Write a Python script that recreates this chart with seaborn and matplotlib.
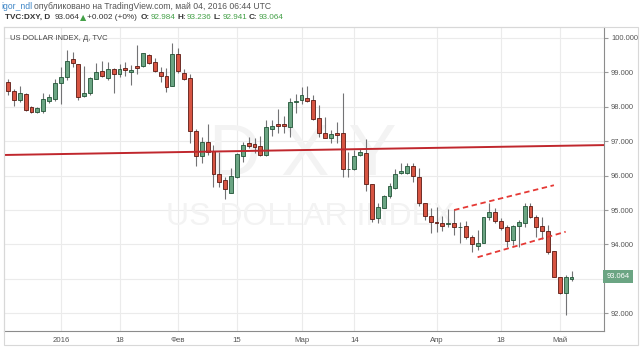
import matplotlib
matplotlib.use('Agg')
import matplotlib.pyplot as plt
import matplotlib.transforms as mtransforms
from matplotlib.patches import Rectangle
import seaborn as sns
import numpy as np
import pandas as pd

# ---------------- data ----------------
dates = [d for d in pd.bdate_range('2015-12-21', '2016-05-04') if d != pd.Timestamp('2016-01-01')]

open_ = [98.73, 98.46, 98.19, 98.36, 97.98, 97.85, 97.88, 98.17, 98.21, 98.70,
         98.87, 99.38, 99.23, 98.31, 98.39, 98.80, 99.04, 98.82, 99.09, 98.94,
         99.13, 99.02, 99.18, 99.19, 99.50, 99.29, 99.02, 98.89, 98.61, 99.53,
         98.99, 98.82, 97.30, 96.57, 96.97, 96.71, 96.05, 95.87, 95.49, 95.95,
         96.57, 96.95, 96.91, 96.87, 96.60, 97.34, 97.50, 97.49, 97.40, 98.13,
         98.19, 98.26, 98.19, 97.68, 97.23, 97.08, 97.25, 97.23, 96.18, 96.19,
         96.61, 96.65, 95.76, 94.76, 95.05, 95.41, 95.63, 96.07, 96.07, 96.29,
         95.95, 95.20, 94.84, 94.64, 94.62, 94.59, 94.62, 94.50, 94.55, 94.21,
         93.97, 94.05, 94.81, 94.93, 94.69, 94.50, 94.13, 94.54, 94.62, 95.12,
         94.79, 94.54, 94.39, 93.82, 93.05, 92.60, 92.984]
high = [98.80, 98.51, 98.60, 98.39, 98.02, 98.00, 98.41, 98.37, 98.80, 99.16,
        99.65, 99.60, 99.24, 99.18, 98.85, 99.28, 99.34, 99.31, 99.12, 99.24,
        99.31, 99.21, 99.79, 99.57, 99.53, 99.40, 99.16, 99.11, 99.84, 99.70,
        99.09, 98.94, 97.34, 97.13, 97.49, 96.89, 96.69, 95.97, 96.21, 96.65,
        96.98, 97.11, 97.08, 97.15, 97.61, 97.61, 97.92, 97.73, 98.24, 98.37,
        98.58, 98.60, 98.34, 98.05, 97.71, 97.32, 97.56, 98.39, 96.69, 96.74,
        96.76, 97.05, 95.76, 95.20, 95.44, 95.78, 96.18, 96.36, 96.37, 96.36,
        96.21, 95.20, 95.05, 95.08, 94.83, 95.02, 95.02, 94.66, 94.69, 94.28,
        94.42, 94.81, 95.21, 95.05, 94.76, 94.57, 94.57, 94.71, 95.21, 95.20,
        94.86, 94.81, 94.57, 93.82, 93.05, 93.11, 93.236]
low = [98.34, 98.02, 98.15, 97.88, 97.83, 97.81, 97.81, 98.12, 98.17, 98.08,
       98.78, 99.16, 98.19, 98.29, 98.34, 98.80, 98.87, 98.78, 98.39, 98.87,
       98.89, 98.63, 98.95, 99.16, 99.24, 99.02, 98.73, 98.44, 98.61, 98.97,
       98.78, 96.94, 96.28, 96.36, 96.60, 95.68, 95.68, 95.31, 95.49, 95.93,
       96.40, 96.79, 96.67, 96.58, 96.58, 97.15, 97.23, 97.23, 97.13, 97.83,
       98.08, 98.14, 97.61, 97.13, 97.10, 96.94, 96.94, 95.97, 95.97, 96.16,
       96.57, 95.56, 94.66, 94.62, 95.05, 95.34, 95.60, 96.05, 96.05, 95.82,
       95.12, 94.70, 94.33, 94.37, 94.39, 94.50, 94.28, 94.03, 94.15, 93.79,
       93.84, 94.05, 94.71, 94.62, 94.42, 93.94, 93.99, 93.94, 94.50, 94.76,
       94.23, 94.15, 93.72, 93.05, 92.56, 91.95, 92.941]
close = [98.46, 98.19, 98.41, 97.90, 97.85, 97.95, 98.22, 98.27, 98.70, 98.85,
         99.34, 99.26, 98.29, 98.39, 98.82, 99.02, 98.89, 99.09, 98.95, 99.09,
         99.07, 99.07, 99.11, 99.55, 99.28, 99.04, 98.90, 98.58, 99.53, 99.04,
         98.80, 97.30, 96.57, 96.97, 96.69, 96.05, 95.82, 95.60, 95.99, 96.63,
         96.89, 96.86, 96.82, 96.60, 97.40, 97.44, 97.45, 97.45, 98.15, 98.17,
         98.34, 98.17, 97.63, 97.23, 97.10, 97.21, 97.18, 96.18, 96.20, 96.58,
         96.68, 95.76, 94.73, 95.10, 95.41, 95.70, 96.05, 96.13, 96.28, 95.99,
         95.20, 94.84, 94.64, 94.62, 94.55, 94.63, 94.50, 94.51, 94.21, 94.01,
         94.05, 94.79, 94.95, 94.69, 94.47, 94.11, 94.55, 94.66, 95.12, 94.81,
         94.50, 94.40, 93.79, 93.07, 92.58, 93.07, 93.064]

tick_dates = ['2016-01-04', '2016-01-18', '2016-02-01', '2016-02-15', '2016-03-01',
              '2016-03-14', '2016-04-01', '2016-04-18', '2016-05-02']
tick_labels = ['2016', '18', 'Фев', '15', 'Мар', '14', 'Апр', '18', 'Май']
price_ticks = [92, 93, 94, 95, 96, 97, 98, 99, 100]

# drawn lines: (start date, start price, end date, end price)
trend_main = ('2015-12-21', 96.60, '2016-05-04', 96.87)
channel_upper = ('2016-04-06', 95.00, '2016-04-29', 95.72)
channel_lower = ('2016-04-12', 93.63, '2016-05-03', 94.37)

last_price = 93.064
header_user = 'igor_ndl'
header_rest = 'опубликовано на TradingView.com, май 04, 2016 06:44 UTC'
symbol = 'TVC:DXY, D'
change = '+0.002 (+0%)'
ohlc_labels = ['O:', 'H:', 'L:', 'C:']
ohlc_values = ['92.984', '93.236', '92.941', '93.064']

# ---------------- style ----------------
sns.set_theme(style='white')
plt.rcParams['font.family'] = ['Liberation Sans', 'DejaVu Sans']

UP, DOWN = '#6ba583', '#d75442'
UP_EDGE, DOWN_EDGE = '#225437', '#5b1a13'
WICK = '#737375'
GREEN = '#43a047'

W, H = 640, 348
fig = plt.figure(figsize=(W / 100, H / 100), dpi=100)
fig.patch.set_facecolor('white')
L, R, T, B = 4, 604, 27, 331
ax = fig.add_axes([L / W, 1 - B / H, (R - L) / W, (B - T) / H])
ax.set_facecolor('white')

df = pd.DataFrame({'date': pd.to_datetime(dates), 'open': open_, 'high': high,
                   'low': low, 'close': close})
df['idx'] = np.arange(len(df))
df['up'] = df['close'] >= df['open']
pos = {d: i for i, d in zip(df['idx'], df['date'])}

def di(s):
    return pos[pd.Timestamp(s)]

# wicks
ax.vlines(df['idx'], df['low'], df['high'], color=WICK, lw=0.8, zorder=2)
# bodies
bottoms = np.minimum(df['open'], df['close'])
heights = np.abs(df['close'] - df['open'])
ax.bar(df['idx'], heights, bottom=bottoms, width=0.66,
       color=np.where(df['up'], UP, DOWN),
       edgecolor=np.where(df['up'], UP_EDGE, DOWN_EDGE), linewidth=0.6, zorder=3)

# drawn lines
ax.axline((di(trend_main[0]), trend_main[1]), (di(trend_main[2]), trend_main[3]),
          color='#c0272d', lw=1.4, zorder=4)
for seg in (channel_upper, channel_lower):
    ax.plot([di(seg[0]), di(seg[2])], [seg[1], seg[3]], color='#e53935', lw=1.3,
            dashes=(3, 2), zorder=4)

# axes
ax.set_xlim(-0.68, 101.53)
ax.set_ylim(91.489, 100.313)
ax.set_xticks([di(d) for d in tick_dates])
ax.set_xticklabels(tick_labels)
ax.yaxis.tick_right()
ax.set_yticks(price_ticks)
ax.set_yticklabels(['' if abs(p - last_price) < 0.5 else f'{p:.3f}' for p in price_ticks])
ax.tick_params(axis='y', length=3, width=0.8, color='#9a9a9a', labelsize=5.4,
               labelcolor='#555555', pad=2, right=True, left=False)
ax.tick_params(axis='x', length=0, labelsize=5.6, labelcolor='#555555', pad=4)
ax.grid(True, color='#ebebeb', lw=0.8)
ax.set_axisbelow(True)
for s in ('top', 'left'):
    ax.spines[s].set_color('#d8d8d8')
    ax.spines[s].set_linewidth(0.8)
for s in ('right', 'bottom'):
    ax.spines[s].set_color('#8c8c8c')
    ax.spines[s].set_linewidth(0.8)

# watermark
ax.text(0.498, 0.575, 'D X Y', transform=ax.transAxes, ha='center', va='center',
        fontsize=52, color='#f3f3f3', zorder=0.6)
ax.text(0.51, 0.375, 'US DOLLAR INDEX', transform=ax.transAxes, ha='center',
        va='center', fontsize=23, color='#f3f3f3', zorder=0.6)

# chart title inside
ax.text(6 / (R - L), 1 - 11 / (B - T), 'US DOLLAR INDEX, Д, TVC', transform=ax.transAxes,
        ha='left', va='center', fontsize=5.5, color='#444444', zorder=5)

# last price label
tr = mtransforms.blended_transform_factory(ax.transAxes, ax.transData)
ax.text(1.004, last_price, f'{last_price:.3f}', transform=tr, ha='left', va='center',
        fontsize=5.4, color='white', zorder=6, clip_on=False,
        bbox=dict(boxstyle='square,pad=0.4', fc=UP, ec='none'))

# outer frame
fig.add_artist(Rectangle((L / W, 1 - 345 / H), (638 - L) / W, (345 - T) / H,
                         transform=fig.transFigure, fill=False, ec='#d8d8d8', lw=0.8))

# header, laid out piece by piece
renderer = fig.canvas.get_renderer()

def layout_line(pieces, x0, x1, py, size):
    texts = []
    for s, kw, gap in pieces:
        t = fig.text(0, 1 - py / H, s, va='center', ha='left', fontsize=size, **kw)
        texts.append((t, gap))
    def widths():
        return [t.get_window_extent(renderer).width for t, _ in texts]
    gaps = sum(g for _, g in texts[:-1])
    scale = (x1 - x0 - gaps) / sum(widths())
    for t, _ in texts:
        t.set_fontsize(size * scale)
    x = x0
    for (t, gap), w in zip(texts, widths()):
        t.set_x(x / W)
        x += w + gap

layout_line([(header_user, dict(color='#3d85c6'), 2),
             (header_rest, dict(color='#555555'), 0)], 1, 273, 6.5, 6.2)

line2 = [(symbol, dict(color='#333333', fontweight='bold'), 4),
         (f'{last_price:.3f}', dict(color='#333333'), 1),
         ('▲', dict(color=GREEN, family='DejaVu Sans'), 1),
         (change, dict(color='#333333'), 3)]
for i, (lab, val) in enumerate(zip(ohlc_labels, ohlc_values)):
    line2.append((lab, dict(color='#333333', fontweight='bold'), 1))
    line2.append((val, dict(color=GREEN), 2 if i < 3 else 0))
layout_line(line2, 5, 284, 17.5, 6.0)

fig.savefig('out.png', dpi=100, facecolor='white')
